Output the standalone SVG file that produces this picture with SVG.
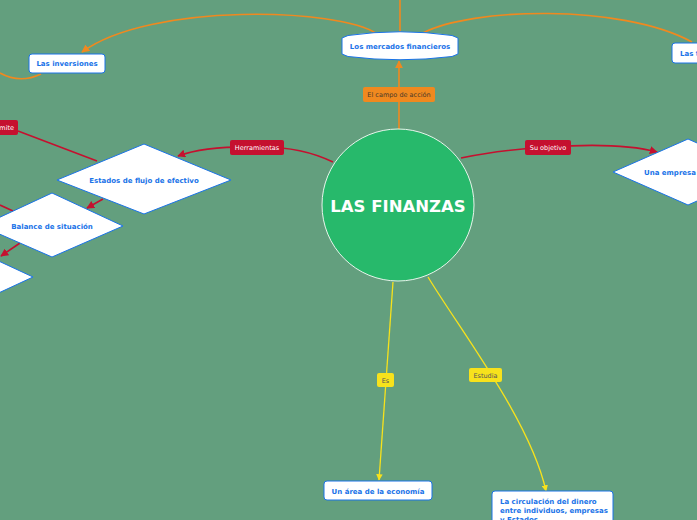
<svg xmlns="http://www.w3.org/2000/svg" width="697" height="520" viewBox="0 0 697 520">
<defs>
<style>
.node{fill:#fff;stroke:#1a73e8;stroke-width:1}
.nt{font-family:"DejaVu Sans",Verdana,sans-serif;font-weight:bold;font-size:7px;fill:#1a73e8}
.lt{font-family:"DejaVu Sans",Verdana,sans-serif;font-size:6.5px}
.or{fill:none;stroke:#f0891f;stroke-width:1.6}
.rd{fill:none;stroke:#c5102f;stroke-width:1.6}
.yl{fill:none;stroke:#f7e21c;stroke-width:1.3}
</style>
<marker id="ao" viewBox="0 0 10 10" refX="9" refY="5" markerWidth="5" markerHeight="5" orient="auto"><path d="M0,0L10,5L0,10z" fill="#f0891f"/></marker>
<marker id="ar" viewBox="0 0 10 10" refX="9" refY="5" markerWidth="5" markerHeight="5" orient="auto"><path d="M0,0L10,5L0,10z" fill="#c5102f"/></marker>
<marker id="ay" viewBox="0 0 10 10" refX="9" refY="5" markerWidth="5" markerHeight="5" orient="auto"><path d="M0,0L10,5L0,10z" fill="#f7e21c"/></marker>
</defs>
<rect width="697" height="520" fill="#639f7e"/>
<g id="connectors">
<path class="or" d="M399,129 L399,61" marker-end="url(#ao)"/>
<path class="or" d="M400,32 L400,0"/>
<path class="or" d="M377,34 C340,8 150,2 82,52" marker-end="url(#ao)"/>
<path class="or" d="M423,33 C470,8 620,3 692,42"/>
<path class="or" d="M41,74 Q20,84 0,73"/>
<path class="rd" d="M333,162 Q300,146 257,147 Q205,146 178,156" marker-end="url(#ar)"/>
<path class="rd" d="M18,131 L97,161"/>
<path class="rd" d="M103,199 L87,208" marker-end="url(#ar)"/>
<path class="rd" d="M0,205 L13,211"/>
<path class="rd" d="M20,243 L1,256" marker-end="url(#ar)"/>
<path class="rd" d="M461,158 Q500,150 548,147 Q620,142 657,152" marker-end="url(#ar)"/>
<path class="yl" d="M393,282 L379,480" marker-end="url(#ay)"/>
<path class="yl" d="M428,277 C460,330 530,420 546,491" marker-end="url(#ay)"/>
<g id="lbl-campo"><rect x="363" y="87" width="72" height="15" rx="2" fill="#f0891f"/><text class="lt" x="399" y="96.5" text-anchor="middle" fill="#4a3a2a">El campo de acción</text></g>
<g id="lbl-herr"><rect x="230" y="140" width="54" height="15" rx="2" fill="#c5102f"/><text class="lt" x="257" y="150" text-anchor="middle" fill="#fff">Herramientas</text></g>
<g id="lbl-permite"><rect x="-10" y="120" width="28" height="15" rx="2" fill="#c5102f"/><text class="lt" x="14" y="130" text-anchor="end" fill="#fff">mite</text></g>
<g id="lbl-obj"><rect x="525" y="140" width="46" height="15" rx="2" fill="#c5102f"/><text class="lt" x="548" y="150" text-anchor="middle" fill="#fff">Su objetivo</text></g>
<g id="lbl-es"><rect x="377" y="373" width="17" height="14" rx="2" fill="#f7e21c"/><text class="lt" x="385.5" y="382.5" text-anchor="middle" fill="#555">Es</text></g>
<g id="lbl-estudia"><rect x="469" y="368" width="33" height="14" rx="2" fill="#f7e21c"/><text class="lt" x="485.5" y="377.5" text-anchor="middle" fill="#555">Estudia</text></g>
</g>
<g id="center"><circle cx="398" cy="205" r="76" fill="#27b96b" stroke="#e8f5ec" stroke-width="1"/><text x="398" y="211.5" text-anchor="middle" font-family="DejaVu Sans,Verdana,sans-serif" font-weight="bold" font-size="16.5" fill="#fff">LAS FINANZAS</text></g>
<g id="mercados"><path class="node" d="M342,38 L348,35.5 Q400,28 452,35.5 L458,38 L458,54 L452,56.5 Q400,63 348,56.5 L342,54 Z"/><text class="nt" x="400" y="48.5" text-anchor="middle">Los mercados financieros</text></g>
<g id="inversiones"><rect class="node" x="29" y="54" width="76" height="19" rx="3"/><text class="nt" x="67" y="66" text-anchor="middle">Las inversiones</text></g>
<g id="tasas"><rect class="node" x="672" y="43" width="40" height="20" rx="3"/><text class="nt" x="680" y="55.5">Las t</text></g>
<g id="estados"><path class="node" d="M57,180 L144,144 L231,180 L144,214 Z"/><text class="nt" x="144" y="182.5" text-anchor="middle">Estados de flujo de efectivo</text></g>
<g id="balance"><path class="node" d="M-19,226 L52,193 L123,226 L52,257 Z"/><text class="nt" x="52" y="228.5" text-anchor="middle">Balance de situación</text></g>
<g id="tercero"><path class="node" d="M-109,277 L-38,244 L33,277 L-38,310 Z"/></g>
<g id="empresa"><path class="node" d="M613,172 L688,139 L763,172 L688,205 Z"/><text class="nt" x="644" y="174.5">Una empresa</text></g>
<g id="area"><rect class="node" x="324" y="481" width="108" height="19" rx="3"/><text class="nt" x="378" y="493.5" text-anchor="middle">Un área de la economía</text></g>
<g id="circulacion"><rect class="node" x="492" y="491" width="121" height="40" rx="3"/><text class="nt" x="500" y="503.5">La circulación del dinero</text><text class="nt" x="500" y="512.5">entre individuos, empresas</text><text class="nt" x="500" y="521.5">y Estados.</text></g>
</svg>
